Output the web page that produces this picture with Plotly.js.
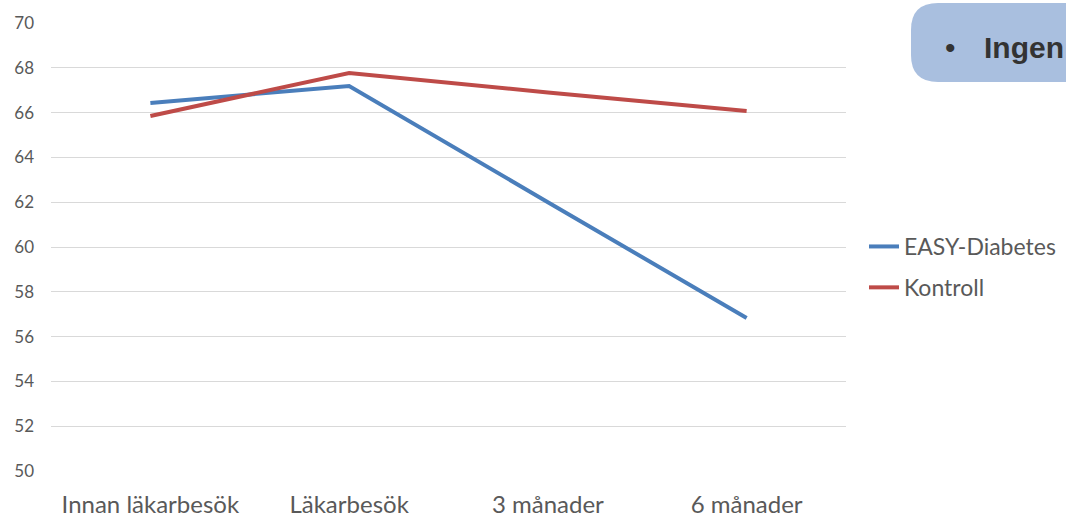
<!DOCTYPE html>
<html>
<head>
<meta charset="utf-8">
<script src="https://cdn.plot.ly/plotly-3.0.1.min.js"></script>
<style>html,body{margin:0;padding:0;background:#fff;}#chart{width:1066px;height:517px;}</style>
</head>
<body>
<div id="chart"></div>
<script>
var categories = ["Innan läkarbesök", "Läkarbesök", "3 månader", "6 månader"];
var easyDiabetes = [66.43, 67.19, 62.0, 56.83];
var kontroll = [65.85, 67.77, 66.9, 66.07];
var seriesNames = ["EASY-Diabetes", "Kontroll"];
var yTicks = [50, 52, 54, 56, 58, 60, 62, 64, 66, 68, 70];
var boxBullet = "•";
var boxText = "<b>Ingen</b>";

var W = 1066, H = 517;
var mL = 51, mR = 220, mT = 23, mB = 46;
var pw = W - mL - mR, ph = H - mT - mB;
function px(x){ return (x - mL) / pw; }
function py(y){ return (H - mB - y) / ph; }

// rounded box (pixel geometry converted to paper coords)
var bl = 911, bt = 3, bb = 82, br = 1120, r = 27;
var boxPath = "M" + px(bl + r) + "," + py(bt) +
  " L" + px(br) + "," + py(bt) +
  " L" + px(br) + "," + py(bb) +
  " L" + px(bl + r) + "," + py(bb) +
  " Q" + px(bl) + "," + py(bb) + " " + px(bl) + "," + py(bb - r) +
  " L" + px(bl) + "," + py(bt + r) +
  " Q" + px(bl) + "," + py(bt) + " " + px(bl + r) + "," + py(bt) + " Z";

var traces = [
  {x: categories, y: easyDiabetes, name: seriesNames[0], type: "scatter", mode: "lines",
   line: {color: "#4a7ebb", width: 4}, legendgroup: "a"},
  {x: categories, y: kontroll, name: seriesNames[1], type: "scatter", mode: "lines",
   line: {color: "#be4b48", width: 4}, legendgroup: "b"}
];

var layout = {
  width: W, height: H,
  margin: {l: mL, r: mR, t: mT, b: mB, pad: 0, autoexpand: false},
  paper_bgcolor: "#ffffff", plot_bgcolor: "#ffffff",
  font: {family: "Lato, 'Open Sans', sans-serif", color: "#595959"},
  showlegend: true,
  legend: {x: px(864), xanchor: "left", y: py(225), yanchor: "top",
           font: {size: 23, color: "#595959"}, tracegroupgap: 8,
           bgcolor: "rgba(0,0,0,0)", itemwidth: 30},
  xaxis: {type: "category", range: [-0.5, 3.5], showgrid: false, zeroline: false,
          showline: false, ticks: "", tickfont: {size: 24, color: "#595959"},
          ticklabelstandoff: 17, fixedrange: true},
  yaxis: {range: [50, 70], tickvals: yTicks, ticktext: yTicks.map(String),
          showgrid: true, gridcolor: "#d9d9d9", gridwidth: 1, zeroline: false,
          showline: false, ticks: "", tickfont: {size: 17, color: "#595959"},
          ticklabelstandoff: 16, fixedrange: true},
  shapes: [{type: "path", xref: "paper", yref: "paper", path: boxPath,
            fillcolor: "#a9bfdf", line: {width: 0}, layer: "above"}],
  annotations: [
    {xref: "paper", yref: "paper", x: px(943), y: py(47), xanchor: "left",
     yanchor: "middle", text: boxBullet, showarrow: false,
     font: {size: 30, color: "#333333", family: "Liberation Sans, Arial, sans-serif"}},
    {xref: "paper", yref: "paper", x: px(982), y: py(47), xanchor: "left",
     yanchor: "middle", text: boxText, showarrow: false,
     font: {size: 30, color: "#333333", family: "Liberation Sans, Arial, sans-serif"}}
  ]
};

Plotly.newPlot("chart", traces, layout, {displayModeBar: false, staticPlot: true});
</script>
</body>
</html>
